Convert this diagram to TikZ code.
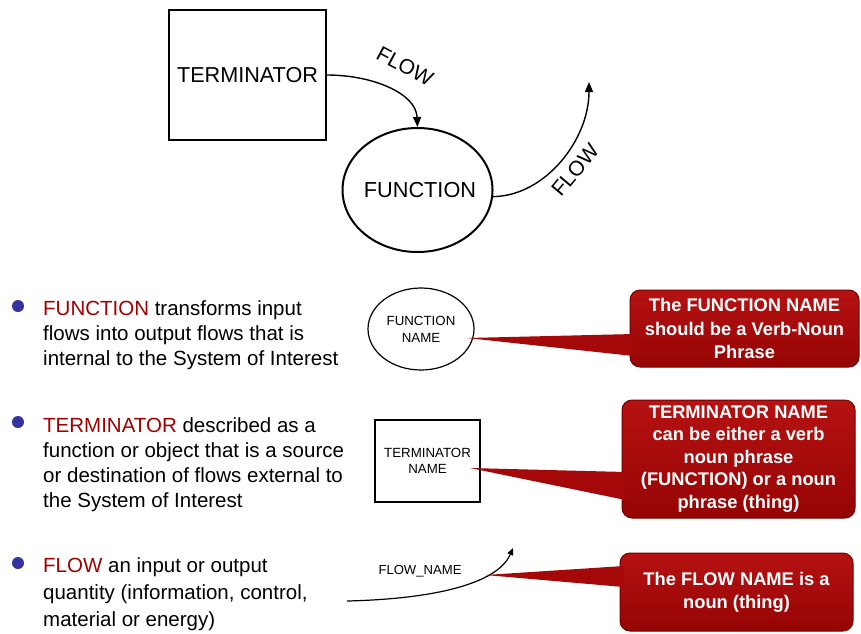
\documentclass[tikz,border=0pt]{standalone}
\usepackage{fontspec}
\setmainfont{Liberation Sans}
\usetikzlibrary{shapes.geometric,arrows.meta,calc}
\definecolor{fred}{RGB}{160,0,0}
\definecolor{cred}{RGB}{165,8,8}
\definecolor{credtop}{RGB}{182,18,18}
\definecolor{credbot}{RGB}{150,4,4}
\definecolor{credline}{RGB}{115,0,0}
\definecolor{bblue}{RGB}{52,52,160}
\begin{document}
\begin{tikzpicture}[x=1pt,y=-1pt,
  bigline/.style={draw,line width=2pt,inner sep=0pt},
  smallline/.style={draw,line width=1.2pt,inner sep=0pt},
  flowarrow/.style={line width=1.4pt,-{Triangle[length=10pt,width=8pt]}},
  smallarrow/.style={line width=1.2pt,-{Triangle[length=7pt,width=6pt]}},
  callout/.style={rounded corners=10pt,top color=credtop,bottom color=credbot,draw=credline,line width=1pt,text=white,align=center,inner sep=0pt},
  wedge/.style={fill=cred},
  bullettext/.style={anchor=base west,inner sep=0pt,font=\fontsize{20.5}{25}\selectfont},
  bdot/.style={circle,fill=bblue,minimum size=12pt,inner sep=0pt}
]
\useasboundingbox (0,0) rectangle (861,633);

% ---- top diagram
\node[bigline,minimum width=157pt,minimum height=130pt,font=\fontsize{21.6}{26}\selectfont] (term) at (247.5,75) {TERMINATOR};
\node[bigline,ellipse,minimum width=150pt,minimum height=124pt,inner xsep=-25pt,font=\fontsize{21.7}{26}\selectfont] (fun) at (417.5,190) {\hspace*{5pt}FUNCTION};
\coordinate (out) at (589,82);
\draw[flowarrow] (term.east) .. controls (372,75) and (416,93) .. (fun.north);
\draw[flowarrow] (fun.-5) .. controls (545,196) and (589,140) .. (out);
\node[rotate=-28,font=\fontsize{21}{25}\selectfont] (fl1) at (405,66) {FLOW};
\node[rotate=50,font=\fontsize{21}{25}\selectfont] (fl2) at (575,170) {FLOW};

% ---- bullets
\node[bdot] (d1) at (18,306) {};
\node[bdot] (d2) at (18,422) {};
\node[bdot] (d3) at (18,563) {};
\node[bullettext] (b1) at (43,315.7) {\parbox[t]{310pt}{\raggedright\textcolor{fred}{FUNCTION} transforms input\\flows into output flows that is\\internal to the System of Interest}};
\node[bullettext] (b2) at (43,432) {\parbox[t]{310pt}{\raggedright\textcolor{fred}{TERMINATOR} described as a\\function or object that is a source\\or destination of flows external to\\the System of Interest}};
\node[bullettext,font=\fontsize{20.5}{27}\selectfont] (b3) at (43,572.5) {\parbox[t]{310pt}{\raggedright\textcolor{fred}{FLOW} an input or output\\quantity (information, control,\\material or energy)}};

% ---- symbols
\node[smallline,ellipse,minimum width=106pt,minimum height=82pt,align=center,font=\fontsize{13.3}{17}\selectfont] (fn) at (421,329) {FUNCTION\\NAME};
\node[smallline,minimum width=105pt,minimum height=82pt,align=center,font=\fontsize{13.3}{16.5}\selectfont] (tn) at (427.5,461) {TERMINATOR\\NAME};
\coordinate (fs) at (347,601);
\coordinate (fe) at (513,548);
\draw[smallarrow] (fs) .. controls (430,599) and (497,585) .. (fe);
\node[font=\fontsize{13.1}{16}\selectfont] (fln) at (420,571) {FLOW\_NAME};

% ---- callouts
\node[callout,minimum width=229pt,minimum height=77pt,font=\fontsize{18.3}{23.5}\selectfont\bfseries] (c1) at (744.5,328.5) {The FUNCTION NAME\\should be a Verb-Noun\\Phrase};
\coordinate (t1) at (467,338);
\fill[wedge] (t1) -- ($(c1.west)+(4,5.5)$) -- ($(c1.west)+(4,27.5)$) -- cycle;

\node[callout,minimum width=233pt,minimum height=118pt,font=\fontsize{18.3}{22.5}\selectfont\bfseries] (c2) at (738.5,459) {TERMINATOR NAME\\can be either a verb\\noun phrase\\(FUNCTION) or a noun\\phrase (thing)};
\coordinate (t2) at (470,468);
\fill[wedge] (t2) -- ($(c2.west)+(4,13)$) -- ($(c2.west)+(4,41)$) -- cycle;

\node[callout,minimum width=233pt,minimum height=78pt,font=\fontsize{18.3}{23}\selectfont\bfseries] (c3) at (736.5,592) {The FLOW NAME is a\\noun (thing)};
\coordinate (t3) at (485,575);
\fill[wedge] (t3) -- ($(c3.west)+(4,-26)$) -- ($(c3.west)+(4,-5)$) -- cycle;
\end{tikzpicture}
\end{document}
